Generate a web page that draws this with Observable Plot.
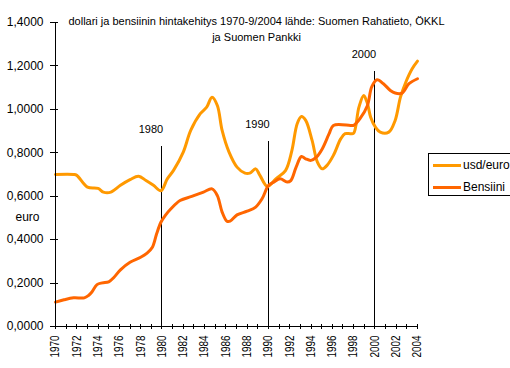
<!DOCTYPE html>
<html>
<head>
<meta charset="utf-8">
<script src="https://cdn.jsdelivr.net/npm/d3@7"></script>
<script src="https://cdn.jsdelivr.net/npm/@observablehq/plot@0.6"></script>
<style>
  html, body { margin: 0; padding: 0; background: #fff; overflow: hidden; }
  #wrap { position: relative; width: 510px; height: 368px; overflow: hidden; font-family: "Liberation Sans", Arial, sans-serif; }
  #legend { position: absolute; left: 428px; top: 153px; width: 120px; height: 41px; border: 1px solid #000; background: #fff; font-size: 12px; }
  #legend .row { position: absolute; left: 4px; height: 14px; display: flex; align-items: center; white-space: nowrap; }
  #legend .sw { width: 28px; height: 3px; margin-right: 2px; }
</style>
</head>
<body>
<div id="wrap"><div id="chart"></div><div id="legend"></div></div>
<script>
const titleText = "dollari ja bensiinin hintakehitys 1970-9/2004 lähde: Suomen Rahatieto, ÖKKL\nja Suomen Pankki";
const yAxisLabel = "euro";
const seriesNames = ["usd/euro", "Bensiini"];
const seriesColors = ["#FF9900", "#FF6600"];

const usdYears = [1970, 1971.7, 1972.0, 1973, 1974, 1974.5, 1975.2, 1976.1, 1977, 1977.8, 1978.5, 1979.2, 1979.9, 1980.5, 1981.1, 1982, 1982.7, 1983.6, 1984.2, 1984.7, 1985.2, 1985.65, 1986.3, 1987.05, 1987.8, 1988.25, 1988.8, 1989.2, 1989.9, 1990.7, 1991.6, 1992.2, 1992.7, 1993.1, 1993.5, 1994.1, 1994.6, 1995.05, 1995.5, 1996.1, 1996.8, 1997.2, 1997.7, 1998, 1998.5, 1998.95, 1999.3, 1999.6, 2000.05, 2000.5, 2001.3, 2001.9, 2002.4, 2002.9, 2003.5, 2004];
const usdValues = [0.700, 0.700, 0.696, 0.642, 0.636, 0.619, 0.619, 0.650, 0.676, 0.692, 0.672, 0.650, 0.625, 0.680, 0.720, 0.803, 0.903, 0.980, 1.010, 1.056, 1.018, 0.903, 0.803, 0.734, 0.706, 0.706, 0.726, 0.696, 0.645, 0.680, 0.718, 0.810, 0.934, 0.967, 0.949, 0.857, 0.757, 0.726, 0.742, 0.788, 0.865, 0.888, 0.888, 0.890, 1.010, 1.064, 1.026, 0.964, 0.918, 0.895, 0.895, 0.949, 1.056, 1.125, 1.187, 1.222];

const benYears = [1970, 1970.8, 1971.7, 1972.7, 1973.1, 1973.4, 1973.9, 1974.4, 1975, 1975.5, 1976.1, 1977, 1978, 1978.6, 1979.1, 1979.5, 1979.9, 1980.3, 1980.8, 1981.7, 1982.8, 1983.9, 1984.7, 1985.2, 1985.65, 1986.1, 1986.4, 1987.05, 1988, 1988.8, 1989.4, 1990, 1990.5, 1991.1, 1991.75, 1992.1, 1992.6, 1993.1, 1993.5, 1994, 1994.5, 1995.05, 1995.7, 1996.1, 1997.7, 1998, 1998.6, 1999.3, 1999.7, 2000.2, 2000.8, 2001.45, 2001.9, 2002.55, 2003.2, 2004];
const benValues = [0.112, 0.123, 0.132, 0.132, 0.143, 0.158, 0.193, 0.201, 0.206, 0.227, 0.261, 0.296, 0.319, 0.338, 0.365, 0.427, 0.480, 0.511, 0.540, 0.580, 0.599, 0.619, 0.634, 0.603, 0.527, 0.485, 0.485, 0.514, 0.531, 0.550, 0.588, 0.649, 0.665, 0.680, 0.665, 0.672, 0.734, 0.783, 0.772, 0.765, 0.780, 0.818, 0.888, 0.926, 0.926, 0.926, 0.957, 1.018, 1.103, 1.136, 1.118, 1.087, 1.075, 1.075, 1.118, 1.141];

const markerYears = [1980, 1990, 2000];
const markerTops = [0.83, 0.852, 1.175];
const markerLabels = ["1980", "1990", "2000"];

const yTicks = [0, 0.2, 0.4, 0.6, 0.8, 1.0, 1.2, 1.4];
const xTickYears = d3.range(1970, 2005);
const xLabelYears = d3.range(1970, 2005, 2);

const usd = usdYears.map((x, i) => ({x, y: usdValues[i]}));
const ben = benYears.map((x, i) => ({x, y: benValues[i]}));
const markers = markerYears.map((x, i) => ({x, top: markerTops[i], label: markerLabels[i]}));

const chart = Plot.plot({
  width: 510,
  height: 368,
  marginLeft: 55,
  marginRight: 93,
  marginTop: 22,
  marginBottom: 42,
  style: {fontFamily: "'Liberation Sans', Arial, sans-serif", fontSize: "12px", background: "#fff", color: "#000", overflow: "visible"},
  x: {domain: [1970, 2004], label: null},
  y: {domain: [0, 1.4], label: null},
  marks: [
    Plot.text([titleText], {frameAnchor: "top", lineAnchor: "top", dy: -9, dx: 20, fontSize: 11, lineHeight: 1.45, className: "ttl"}),
    Plot.text([yAxisLabel], {frameAnchor: "left", textAnchor: "middle", dx: -28, dy: 43, fontSize: 12}),
    Plot.ruleX(markers, {x: "x", y1: 0, y2: "top", stroke: "#000", strokeWidth: 1, shapeRendering: "crispEdges"}),
    Plot.text(markers, {x: "x", y: "top", text: "label", dy: -17, dx: -11, fontSize: 11}),
    Plot.line(usd, {x: "x", y: "y", stroke: seriesColors[0], strokeWidth: 3, curve: "catmull-rom"}),
    Plot.line(ben, {x: "x", y: "y", stroke: seriesColors[1], strokeWidth: 3, curve: "catmull-rom"}),
    Plot.ruleX([1970], {stroke: "#000", shapeRendering: "crispEdges"}),
    Plot.ruleY([0], {stroke: "#000", shapeRendering: "crispEdges"}),
    Plot.axisY({ticks: yTicks, tickSize: 0, tickPadding: 12, fontSize: 12, tickFormat: d => d.toFixed(4).replace(".", ",")}),
    Plot.axisY({ticks: yTicks, tickSize: 8, dx: 3, tickFormat: () => "", shapeRendering: "crispEdges"}),
    Plot.axisX({ticks: xTickYears, tickSize: 5, dy: -2, tickFormat: () => "", shapeRendering: "crispEdges"}),
    Plot.axisX({ticks: xLabelYears, tickSize: 0, tickPadding: 9, tickRotate: -90, fontSize: 12, tickFormat: d => String(d), className: "xlab"})
  ]
});
document.getElementById("chart").appendChild(chart);
d3.select(chart).selectAll(".xlab text").attr("textLength", 22).attr("lengthAdjust", "spacingAndGlyphs");

const legend = d3.select("#legend");
seriesNames.forEach((name, i) => {
  const row = legend.append("div").attr("class", "row").style("top", (i === 0 ? 4 : 26) + "px");
  row.append("div").attr("class", "sw").style("background", seriesColors[i]);
  row.append("span").text(name);
});
</script>
</body>
</html>
